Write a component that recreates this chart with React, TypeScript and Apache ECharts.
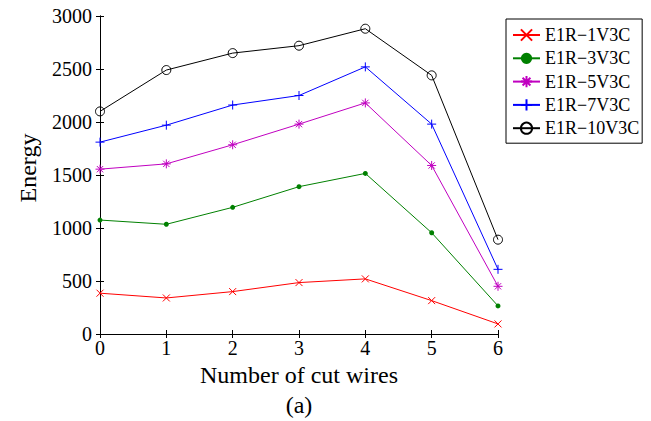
import React, { useEffect, useRef } from "react";
import * as echarts from "echarts";

const xValues = [0, 1, 2, 3, 4, 5, 6];
const seriesNames = ["E1R\u22121V3C", "E1R\u22123V3C", "E1R\u22125V3C", "E1R\u22127V3C", "E1R\u221210V3C"];
const e1 = [385, 340, 400, 485, 520, 315, 95];
const e3 = [1075, 1035, 1195, 1390, 1515, 955, 265];
const e5 = [1555, 1605, 1785, 1980, 2180, 1590, 450];
const e7 = [1810, 1970, 2160, 2250, 2520, 1980, 610];
const e10 = [2100, 2490, 2650, 2720, 2880, 2440, 890];
const xTicks = [0, 1, 2, 3, 4, 5, 6];
const yTicks = [0, 500, 1000, 1500, 2000, 2500, 3000];

const FONT = "Liberation Serif";

export default function App() {
  const ref = useRef<HTMLDivElement>(null);
  useEffect(() => {
    if (!ref.current) return;
    const chart = echarts.init(ref.current, null, { renderer: "svg" });
    const colors = ["#ff0000", "#008000", "#c000c0", "#0000ff", "#000000"];
    const data = [e1, e3, e5, e7, e10];
    const symbols = [
      "path://M0,0L10,10M0,10L10,0",
      "circle",
      "path://M5,0L5,10M0,5L10,5M1.5,1.5L8.5,8.5M1.5,8.5L8.5,1.5",
      "path://M5,0L5,10M0,5L10,5",
      "circle",
    ];
    const sizes = [7, 5, 9, 9, 9];
    const series = data.map((d, i) => ({
      type: "line",
      name: seriesNames[i],
      data: d.map((v, j) => [xValues[j], v]),
      symbol: symbols[i],
      symbolSize: sizes[i],
      showAllSymbol: true,
      lineStyle: { color: colors[i], width: 1 },
      itemStyle:
        i === 1
          ? { color: colors[i], borderColor: colors[i], borderWidth: 0 }
          : { color: i === 4 ? "transparent" : colors[i], borderColor: colors[i], borderWidth: 1 },
      emphasis: { disabled: true },
      xAxisIndex: 0,
      yAxisIndex: 0,
    }));
    const axisLine = { show: true, lineStyle: { color: "#000", width: 1 } };
    const axisTick = { show: true, inside: true, length: 4, lineStyle: { color: "#000" } };
    chart.setOption({
      animation: false,
      grid: { left: 100, top: 16, right: 153, bottom: 87, containLabel: false },
      xAxis: [
        {
          type: "value",
          min: 0,
          max: 6,
          interval: 1,
          axisLine,
          axisTick,
          splitLine: { show: false },
          axisLabel: {
            color: "#000",
            fontFamily: FONT,
            fontSize: 20,
            margin: 4,
            formatter: (v: number) => (xTicks.includes(v) ? String(v) : ""),
          },
          name: "Number of cut wires",
          nameLocation: "middle",
          nameGap: 29,
          nameTextStyle: { color: "#000", fontFamily: FONT, fontSize: 24 },
        },
        {
          type: "value",
          position: "top",
          min: 0,
          max: 6,
          interval: 1,
          axisLine,
          axisTick,
          splitLine: { show: false },
          axisLabel: { show: false },
        },
      ],
      yAxis: [
        {
          type: "value",
          min: 0,
          max: 3000,
          interval: 500,
          axisLine,
          axisTick,
          splitLine: { show: false },
          axisLabel: {
            color: "#000",
            fontFamily: FONT,
            fontSize: 20,
            margin: 8,
            formatter: (v: number) => (yTicks.includes(v) ? String(v) : ""),
          },
        },
        {
          type: "value",
          position: "right",
          min: 0,
          max: 3000,
          interval: 500,
          axisLine,
          axisTick,
          splitLine: { show: false },
          axisLabel: { show: false },
        },
      ],
      legend: {
        orient: "vertical",
        left: 506,
        top: 19,
        padding: [7, 3, 6, 6],
        itemWidth: 27,
        itemHeight: 14,
        itemGap: 5.3,
        borderColor: "#000",
        borderWidth: 1,
        backgroundColor: "#fff",
        textStyle: { color: "#000", fontFamily: FONT, fontSize: 18, lineHeight: 14 },
        selectedMode: false,
        data: seriesNames,
      },
      graphic: [
        {
          type: "text",
          x: 28,
          y: 168,
          rotation: Math.PI / 2,
          style: {
            text: "Energy",
            font: "24px Liberation Serif",
            fill: "#000",
            textAlign: "center",
            textVerticalAlign: "middle",
          },
        },
        {
          type: "text",
          x: 299,
          y: 405,
          style: {
            text: "(a)",
            font: "24px Liberation Serif",
            fill: "#000",
            textAlign: "center",
            textVerticalAlign: "middle",
          },
        },
      ],
      series,
    });
    return () => chart.dispose();
  }, []);
  return <div ref={ref} style={{ width: 651, height: 421, position: "absolute", left: 0, top: 0, background: "#fff" }} />;
}
